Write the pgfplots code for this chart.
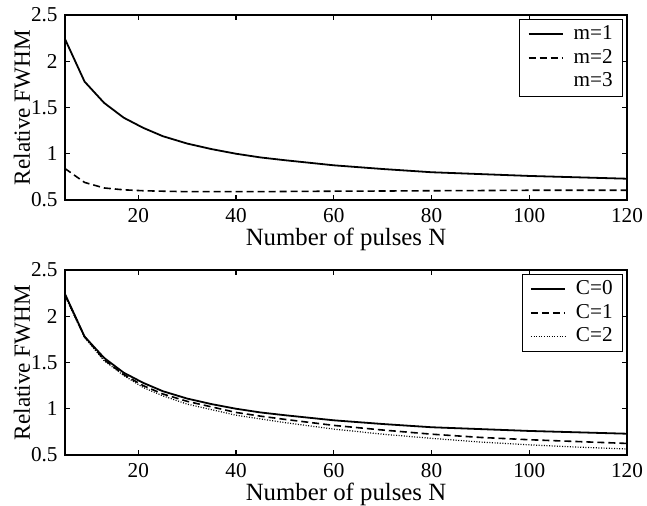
\documentclass[border=0pt]{standalone}
\usepackage{fontspec}
\setmainfont{Liberation Serif}
\usepackage{pgfplots}
\pgfplotsset{compat=1.18}

\pgfplotstableread{
N     m1     m2     c1     c2
5     2.24   0.84   2.23   2.22
9     1.78   0.69   1.78   1.77
13    1.55   0.63   1.53   1.52
17    1.39   0.61   1.37   1.36
21    1.28   0.60   1.25   1.23
25    1.19   0.595  1.16   1.14
30    1.11   0.59   1.08   1.05
35    1.05   0.59   1.02   0.99
40    1.00   0.59   0.96   0.93
45    0.96   0.59   0.92   0.89
50    0.93   0.592  0.885  0.85
60    0.875  0.595  0.82   0.78
70    0.835  0.597  0.77   0.725
80    0.80   0.60   0.725  0.68
90    0.78   0.602  0.69   0.64
100   0.76   0.605  0.665  0.61
110   0.745  0.605  0.645  0.585
120   0.73   0.605  0.625  0.565
}\fwhm

\pgfplotsset{
  fw/.style={
    scale only axis, width=281pt, height=92.5pt,
    xmin=5, xmax=120, ymin=0.5, ymax=2.5,
    xtick={20,40,...,120}, ytick={0.5,1,1.5,2,2.5},
    yticklabels={0.5,1,1.5,2,2.5},
    tick align=inside, major tick length=2.5pt,
    axis line style={line width=0.7pt}, every tick/.style={line width=0.6pt, black},
    tick label style={font=\fontsize{10.6}{12}\selectfont},
    xticklabel style={inner sep=1pt, yshift=-3pt},
    yticklabel style={inner sep=1pt, xshift=-2.5pt},
    /pgf/number format/assume math mode=true,
    xlabel={Number of pulses N}, ylabel={Relative FWHM},
    ylabel style={font=\fontsize{11.6}{13}\selectfont,
      at={(axis description cs:-0.0765,0.5)}, anchor=center},
    xlabel style={font=\fontsize{12.4}{14}\selectfont, inner sep=0pt,
      at={(axis description cs:0.5,-0.215)}, anchor=center},
    legend style={at={(0.993,0.978)}, anchor=north east, draw=black,
      font=\fontsize{10.6}{12}\selectfont, inner xsep=4pt, inner ysep=1.5pt, row sep=0pt,
      nodes={inner sep=1pt, text height=7.5pt, text depth=2.3pt},
      /tikz/every odd column/.append style={column sep=4pt}},
    legend cell align=left,
    anchor=north west,
  },
}

\begin{document}
\begin{tikzpicture}
\begin{axis}[fw, at={(0,0)}]
\addplot[black, line width=0.9pt] table[x=N, y=m1] {\fwhm};
\addlegendentry{m=1}
\addplot[black, line width=0.8pt, dash pattern=on 3.5pt off 2pt] table[x=N, y=m2] {\fwhm};
\addlegendentry{m=2}
\addlegendimage{legend image code/.code={}}
\addlegendentry{m=3}
\end{axis}
\begin{axis}[fw, at={(0,-127.5pt)}]
\addplot[black, line width=0.9pt] table[x=N, y=m1] {\fwhm};
\addlegendentry{C=0}
\addplot[black, line width=0.8pt, dash pattern=on 3.5pt off 2pt] table[x=N, y=c1] {\fwhm};
\addlegendentry{C=1}
\addplot[black, line width=0.6pt, dash pattern=on 0.5pt off 0.8pt] table[x=N, y=c2] {\fwhm};
\addlegendentry{C=2}
\end{axis}
\pgfresetboundingbox
\path (-32.5pt,7.5pt) rectangle (291pt,-245.5pt);
\end{tikzpicture}
\end{document}
